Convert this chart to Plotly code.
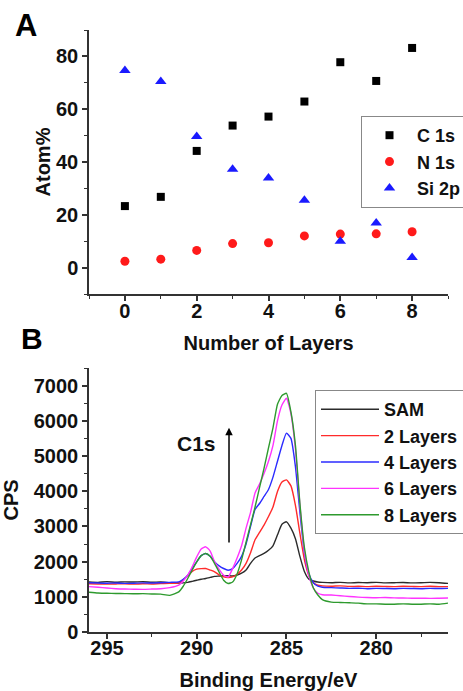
import plotly.graph_objects as go

# ---------------- Panel A data ----------------
layers = [0, 1, 2, 3, 4, 5, 6, 7, 8]
c1s = [23.3, 26.8, 44.2, 53.8, 57.2, 62.9, 77.8, 70.7, 83.2]
n1s = [2.4, 3.2, 6.5, 9.1, 9.4, 12.0, 12.7, 12.8, 13.6]
si2p = [74.7, 70.5, 49.7, 37.3, 33.9, 25.5, 10.0, 16.9, 3.8]

# ---------------- Panel B data ----------------
energy = [296.0, 295.5, 295.0, 294.5, 294.0, 293.5, 293.0, 292.5, 292.0, 291.5,
          291.0, 290.75, 290.5, 290.25, 290.0, 289.75, 289.5, 289.25, 289.0, 288.75,
          288.5, 288.25, 288.0, 287.75, 287.5, 287.25, 287.0, 286.75, 286.5, 286.25,
          286.0, 285.75, 285.5, 285.25, 285.0, 284.75, 284.5, 284.25, 284.0, 283.75,
          283.5, 283.25, 283.0, 282.5, 282.0, 281.5, 281.0, 280.5, 280.0, 279.5,
          279.0, 278.5, 278.0, 277.5, 277.0, 276.5, 276.0]

sam = [1420, 1410, 1430, 1415, 1425, 1420, 1430, 1415, 1420, 1400,
       1390, 1395, 1410, 1440, 1470, 1500, 1520, 1550, 1580, 1590,
       1600, 1600, 1590, 1620, 1670, 1760, 1950, 2100, 2170, 2231,
       2320, 2450, 2760, 3060, 3130, 2950, 2650, 2150, 1720, 1500,
       1450, 1420, 1410, 1400, 1410, 1395, 1405, 1400, 1410, 1395,
       1400, 1405, 1395, 1400, 1410, 1400, 1380]

l2 = [1370, 1365, 1360, 1365, 1370, 1360, 1370, 1365, 1375, 1380,
      1400, 1480, 1600, 1720, 1785, 1800, 1804, 1760, 1710, 1620,
      1565, 1550, 1565, 1640, 1760, 1950, 2250, 2620, 2830, 3036,
      3280, 3550, 3990, 4260, 4320, 4150, 3600, 2800, 2050, 1600,
      1400, 1330, 1310, 1300, 1310, 1295, 1300, 1290, 1300, 1295,
      1290, 1300, 1295, 1290, 1300, 1290, 1290]

l4 = [1400, 1390, 1385, 1390, 1380, 1385, 1395, 1390, 1400, 1410,
      1423, 1500, 1613, 1800, 1992, 2170, 2230, 2150, 1992, 1880,
      1804, 1756, 1800, 1950, 2150, 2500, 3000, 3480, 3650, 3850,
      4050, 4400, 4850, 5300, 5650, 5500, 4700, 3400, 2250, 1650,
      1400, 1300, 1270, 1260, 1250, 1240, 1245, 1230, 1240, 1235,
      1230, 1240, 1235, 1230, 1240, 1235, 1240]

l6 = [1290, 1270, 1250, 1230, 1220, 1215, 1210, 1220, 1230, 1260,
      1330, 1450, 1613, 1850, 2134, 2360, 2420, 2300, 1992, 1780,
      1613, 1560, 1800, 2100, 2450, 2950, 3400, 3950, 4200, 4500,
      4850, 5300, 6000, 6450, 6640, 6200, 5200, 3600, 2300, 1600,
      1250, 1100, 1060, 1050, 1030, 1010, 990, 980, 975, 980,
      970, 965, 960, 960, 955, 960, 965]

l8 = [1130, 1110, 1100, 1095, 1090, 1085, 1090, 1080, 1075, 1040,
      1140, 1300, 1519, 1760, 1992, 2170, 2230, 2150, 1945, 1700,
      1471, 1377, 1420, 1650, 2050, 2550, 3050, 3550, 4100, 4649,
      5230, 5800, 6470, 6720, 6780, 6250, 5300, 3650, 2400, 1700,
      1250, 1050, 920, 850, 840, 830, 820, 800, 800, 790,
      790, 800, 790, 790, 800, 790, 820]

spec_names = ["SAM", "2 Layers", "4 Layers", "6 Layers", "8 Layers"]
spec_values = [sam, l2, l4, l6, l8]
spec_colors = ["#2b2b2b", "#ff2b2b", "#2b2bff", "#ff33ff", "#2e9a2e"]

FONT = "Liberation Sans, Arial, sans-serif"
TXT = "#111111"
AX = "#333333"

fig = go.Figure()

# Panel A traces
fig.add_trace(go.Scatter(x=layers, y=c1s, mode="markers", name="C 1s",
                         marker=dict(symbol="square", size=8, color="black"),
                         xaxis="x", yaxis="y", legend="legend"))
fig.add_trace(go.Scatter(x=layers, y=n1s, mode="markers", name="N 1s",
                         marker=dict(symbol="circle", size=9, color="#ff1a1a"),
                         xaxis="x", yaxis="y", legend="legend"))
fig.add_trace(go.Scatter(x=layers, y=si2p, mode="markers", name="Si 2p",
                         marker=dict(symbol="triangle-up", size=10, color="#1a1aff"),
                         xaxis="x", yaxis="y", legend="legend"))

# Panel B traces
for nm, vals, col in zip(spec_names, spec_values, spec_colors):
    fig.add_trace(go.Scatter(x=energy, y=vals, mode="lines", name=nm,
                             line=dict(color=col, width=1.4, shape="spline", smoothing=0.5),
                             xaxis="x2", yaxis="y2", legend="legend2"))

W, H = 463, 691
xd = [89 / W, 448 / W]

axis_common = dict(
    showgrid=False, zeroline=False, showline=True, linecolor=AX, linewidth=1.5,
    ticks="outside", ticklen=5, tickwidth=1.5, tickcolor=AX,
    tickfont=dict(family=FONT, size=20, color=TXT, weight="bold"),
    mirror=False, automargin=False,
)

fig.update_layout(
    width=W, height=H,
    margin=dict(l=0, r=0, t=0, b=0, autoexpand=False),
    paper_bgcolor="white", plot_bgcolor="white",
    font=dict(family=FONT, color=TXT, weight="bold"),
    xaxis=dict(domain=xd, anchor="y", range=[-1, 9], dtick=2, tick0=0, ticklabelstandoff=-7,
               minor=dict(ticks="outside", ticklen=3, dtick=1, tickcolor=AX, tickwidth=1.2),
               title=dict(text="Number of Layers", standoff=15,
                          font=dict(family=FONT, size=20, color=TXT, weight="bold")),
               **axis_common),
    yaxis=dict(domain=[(H - 294) / H, (H - 30) / H], anchor="x", range=[-10, 90], dtick=20, tick0=0,
               minor=dict(ticks="outside", ticklen=3, dtick=10, tickcolor=AX, tickwidth=1.2),
               title=dict(text="Atom%", standoff=0,
                          font=dict(family=FONT, size=20, color=TXT, weight="bold")),
               **axis_common),
    xaxis2=dict(domain=xd, anchor="y2", range=[296, 276], dtick=5, tick0=280, ticklabelstandoff=-8,
                minor=dict(ticks="outside", ticklen=3, dtick=2.5, tickcolor=AX, tickwidth=1.2),
                title=dict(text="Binding Energy/eV", standoff=18,
                           font=dict(family=FONT, size=20, color=TXT, weight="bold")),
                **axis_common),
    yaxis2=dict(domain=[(H - 632) / H, (H - 368) / H], anchor="x2", range=[0, 7500], dtick=1000, tick0=0,
                minor=dict(ticks="outside", ticklen=3, dtick=500, tickcolor=AX, tickwidth=1.2),
                title=dict(text="CPS", standoff=10,
                           font=dict(family=FONT, size=20, color=TXT, weight="bold")),
                **axis_common),
    legend=dict(x=361 / W, y=(H - 116) / H, xanchor="left", yanchor="top",
                bordercolor="#888888", borderwidth=1, bgcolor="white",
                font=dict(family=FONT, size=18, color=TXT, weight="bold"),
                itemwidth=45, tracegroupgap=0),
    legend2=dict(x=315 / W, y=(H - 390) / H, xanchor="left", yanchor="top",
                 bordercolor="#888888", borderwidth=1, bgcolor="white",
                 font=dict(family=FONT, size=18, color=TXT, weight="bold"),
                 itemwidth=58, tracegroupgap=0),
    showlegend=True,
)

fig.add_annotation(text="A", x=26 / W, y=(H - 25) / H, xref="paper", yref="paper",
                   showarrow=False, xanchor="center", yanchor="middle",
                   font=dict(family=FONT, size=31, color="black", weight="bold"))
fig.add_annotation(text="B", x=32 / W, y=(H - 338) / H, xref="paper", yref="paper",
                   showarrow=False, xanchor="center", yanchor="middle",
                   font=dict(family=FONT, size=30, color="black", weight="bold"))
fig.add_annotation(text="C1s", x=290.0, y=5360, xref="x2", yref="y2",
                   showarrow=False, xanchor="center", yanchor="middle",
                   font=dict(family=FONT, size=21, color=TXT, weight="bold"))
fig.add_annotation(text="", x=288.2, y=5800, ax=288.2, ay=2500,
                   xref="x2", yref="y2", axref="x2", ayref="y2",
                   showarrow=True, arrowhead=2, arrowsize=1, arrowwidth=1.5, arrowcolor="black")

fig.write_html("out.html")
